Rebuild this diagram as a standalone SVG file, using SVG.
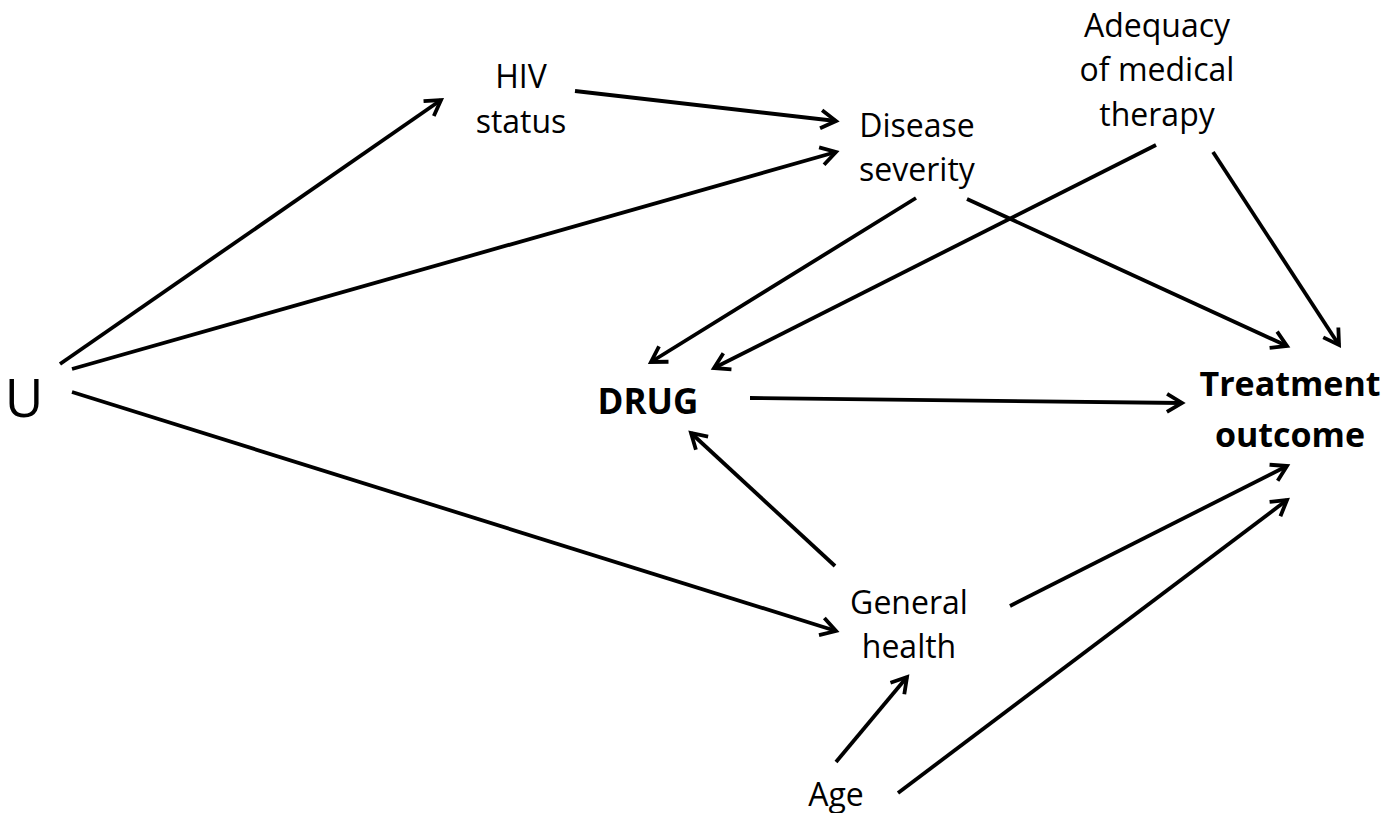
<svg xmlns="http://www.w3.org/2000/svg" width="1395" height="813" viewBox="0 0 1395 813">
<defs>
<marker id="arr" markerUnits="userSpaceOnUse" viewBox="-20 -12 24 24" refX="0" refY="0" markerWidth="24" markerHeight="24" orient="auto" overflow="visible">
<path d="M-15,-9 L0,0 L-15,9" fill="none" stroke="#000" stroke-width="3.8" stroke-linejoin="miter"/>
</marker>
<style>
.t{font-family:"Open Sans","Liberation Sans",sans-serif;font-size:32px;fill:#000;text-anchor:middle}
.b{font-weight:bold;font-size:34px}
.e{stroke:#000;stroke-width:3.8;fill:none;marker-end:url(#arr)}
</style>
</defs>
<rect width="1395" height="813" fill="#fff"/>
<g id="connectors">
<line class="e" x1="60" y1="364" x2="441" y2="100"/>
<line class="e" x1="72" y1="369" x2="836" y2="152"/>
<line class="e" x1="72" y1="392" x2="836" y2="631"/>
<line class="e" x1="575" y1="91" x2="836" y2="121"/>
<line class="e" x1="916" y1="198" x2="651" y2="362"/>
<line class="e" x1="1156" y1="145" x2="714" y2="368"/>
<line class="e" x1="967" y1="199" x2="1287" y2="346"/>
<line class="e" x1="1213" y1="152" x2="1339" y2="345"/>
<line class="e" x1="750" y1="398" x2="1182" y2="403"/>
<line class="e" x1="835" y1="566" x2="691" y2="433"/>
<line class="e" x1="1010" y1="606" x2="1287" y2="466"/>
<line class="e" x1="836" y1="762" x2="907" y2="677"/>
<line class="e" x1="898" y1="793" x2="1287" y2="500"/>
</g>
<g id="U"><text class="t" x="24" y="417" style="font-size:53px">U</text></g>
<g id="hiv"><text class="t" x="521" y="88">HIV</text><text class="t" x="521" y="133">status</text></g>
<g id="disease"><text class="t" x="917" y="137">Disease</text><text class="t" x="917" y="181">severity</text></g>
<g id="adequacy"><text class="t" x="1157" y="37">Adequacy</text><text class="t" x="1157" y="81">of medical</text><text class="t" x="1157" y="126">therapy</text></g>
<g id="drug"><text class="t b" x="648" y="414" style="font-size:35px">DRUG</text></g>
<g id="treatment"><text class="t b" x="1290" y="396">Treatment</text><text class="t b" x="1290" y="447">outcome</text></g>
<g id="general"><text class="t" x="909" y="614">General</text><text class="t" x="909" y="658">health</text></g>
<g id="age"><text class="t" x="836" y="806">Age</text></g>
</svg>
